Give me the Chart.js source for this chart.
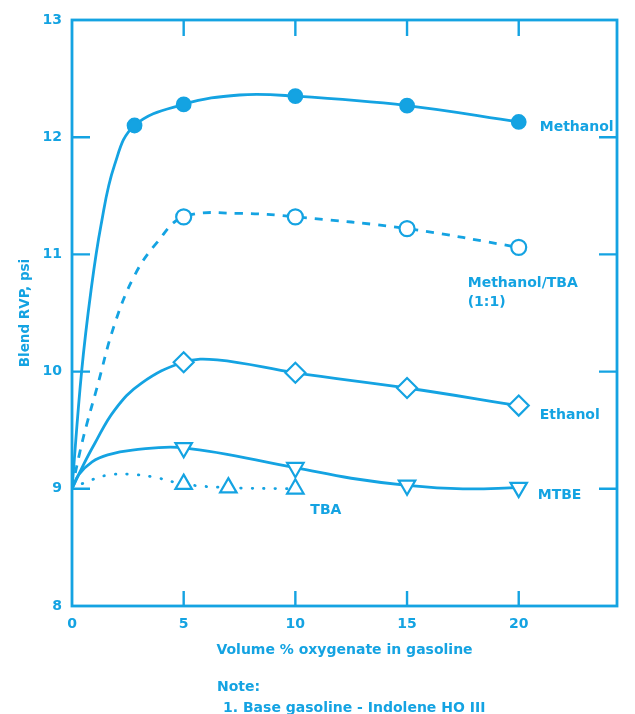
<!DOCTYPE html>
<html>
<head>
<meta charset="utf-8">
<title>Blend RVP vs. oxygenate content</title>
<script src="https://cdn.jsdelivr.net/npm/chart.js@4.4.1/dist/chart.umd.min.js"></script>
<style>
  html, body { margin: 0; padding: 0; background: #ffffff; }
  #wrap { width: 635px; height: 714px; position: relative; }
</style>
</head>
<body>
<div id="wrap"><canvas id="rvp"></canvas></div>
<script>
// Axis ticks
const xTicks = [0, 5, 10, 15, 20];
const yTicks = [8, 9, 10, 11, 12, 13];

// Measured blends (plotted symbols), vol % oxygenate vs. blend RVP (psi)
const methanolX = [2.8, 5, 10, 15, 20];
const methanolY = [12.10, 12.28, 12.35, 12.27, 12.13];
const methTbaX = [5, 10, 15, 20];
const methTbaY = [11.32, 11.32, 11.22, 11.06];
const ethanolX = [5, 10, 15, 20];
const ethanolY = [10.08, 9.99, 9.86, 9.71];
const mtbeX = [5, 10, 15, 20];
const mtbeY = [9.35, 9.18, 9.03, 9.01];
const tbaX = [5, 7, 10];
const tbaY = [9.04, 9.01, 9.00];

// Smoothed trend lines between the symbols (all start at the base gasoline, 9.0 psi)
const methanolFitX = [0, 0.43, 0.85, 1.3, 1.9, 7.5];
const methanolFitY = [9.0, 10.0, 10.69, 11.25, 11.76, 12.36];
const methTbaFitX = [0, 0.36, 0.66, 1.1, 1.9, 2.8, 3.8, 7.5];
const methTbaFitY = [9.0, 9.32, 9.55, 9.85, 10.4, 10.82, 11.1, 11.35];
const ethanolFitX = [0, 0.5, 1.0, 1.9, 3.1, 6.5];
const ethanolFitY = [9.0, 9.2, 9.38, 9.67, 9.9, 10.1];
const mtbeFitX = [0, 0.3, 0.9, 1.6, 2.7, 12.5, 17.5];
const mtbeFitY = [9.0, 9.12, 9.23, 9.29, 9.33, 9.09, 9.0];
const tbaFitX = [0, 0.66, 1.7, 2.9, 3.9];
const tbaFitY = [9.0, 9.06, 9.12, 9.12, 9.09];

const INK = '#14a3e2';
const FONT = '"DejaVu Sans", "Liberation Sans", Arial, sans-serif';

const pts = (xs, ys) => xs.map((x, i) => ({ x, y: ys[i] }));
const fit = (mx, my, fx, fy) => pts(mx, my).concat(pts(fx, fy)).sort((a, b) => a.x - b.x);

function curve(label, data, dash) {
  return {
    label, data, order: 2,
    showLine: true, pointRadius: 0, pointHoverRadius: 0,
    borderColor: INK, borderWidth: 2.8, borderDash: dash || [],
    borderCapStyle: dash && dash[0] < 4 ? 'round' : 'butt',
    tension: 0.4, fill: false
  };
}
function symbols(label, data, style, radius, filled, rotation) {
  return {
    label, data, order: 0, showLine: false,
    pointStyle: style, pointRadius: radius, pointHoverRadius: radius,
    pointRotation: rotation || 0,
    pointBackgroundColor: filled ? INK : '#ffffff',
    pointBorderColor: INK, pointBorderWidth: 2.2
  };
}

// Curve labels placed beside the last symbol of each series (pixel offsets)
const seriesLabels = [
  { lines: ['Methanol'], xs: methanolX, ys: methanolY, dx: 21, dy: 5 },
  { lines: ['Methanol/TBA', '(1:1)'], xs: methTbaX, ys: methTbaY, dx: -51, dy: 36 },
  { lines: ['Ethanol'], xs: ethanolX, ys: ethanolY, dx: 21, dy: 10 },
  { lines: ['MTBE'], xs: mtbeX, ys: mtbeY, dx: 19, dy: 8 },
  { lines: ['TBA'], xs: tbaX, ys: tbaY, dx: 15, dy: 22 }
];

const frameAndNotes = {
  id: 'frameAndNotes',
  afterDatasetsDraw(chart) {
    const { ctx, chartArea: a, scales: { x, y } } = chart;
    ctx.save();
    ctx.strokeStyle = INK;
    ctx.lineWidth = 2.8;
    ctx.strokeRect(a.left, a.top, a.right - a.left, a.bottom - a.top);
    // inward tick marks on all four sides
    ctx.lineWidth = 2.4;
    ctx.beginPath();
    xTicks.slice(1).forEach(v => {
      const px = x.getPixelForValue(v);
      ctx.moveTo(px, a.bottom); ctx.lineTo(px, a.bottom - 15);
      ctx.moveTo(px, a.top); ctx.lineTo(px, a.top + 16);
    });
    yTicks.slice(1, -1).forEach(v => {
      const py = y.getPixelForValue(v);
      ctx.moveTo(a.left, py); ctx.lineTo(a.left + 18, py);
      ctx.moveTo(a.right, py); ctx.lineTo(a.right - 18, py);
    });
    ctx.stroke();

    ctx.fillStyle = INK;
    ctx.font = 'bold 14px ' + FONT;
    ctx.textAlign = 'left';
    ctx.textBaseline = 'middle';
    seriesLabels.forEach(s => {
      const n = s.xs.length - 1;
      const px = x.getPixelForValue(s.xs[n]) + s.dx;
      const py = y.getPixelForValue(s.ys[n]) + s.dy;
      s.lines.forEach((t, i) => ctx.fillText(t, px, py + i * 19));
    });

    // note under the axis title
    ctx.fillText('Note:', a.left + 145, a.bottom + 81);
    ctx.fillText('1. Base gasoline - Indolene HO III', a.left + 151, a.bottom + 102);
    ctx.restore();
  }
};

new Chart(document.getElementById('rvp'), {
  type: 'line',
  data: {
    datasets: [
      symbols('Methanol', pts(methanolX, methanolY), 'circle', 6.8, true),
      symbols('Methanol/TBA (1:1)', pts(methTbaX, methTbaY), 'circle', 7.5, false),
      symbols('Ethanol', pts(ethanolX, ethanolY), 'rectRot', 10, false),
      symbols('MTBE', pts(mtbeX, mtbeY), 'triangle', 9.5, false, 180),
      symbols('TBA', pts(tbaX, tbaY), 'triangle', 9.5, false),
      curve('Methanol fit', fit(methanolX, methanolY, methanolFitX, methanolFitY)),
      curve('Methanol/TBA fit', fit(methTbaX, methTbaY, methTbaFitX, methTbaFitY), [8, 8]),
      curve('Ethanol fit', fit(ethanolX, ethanolY, ethanolFitX, ethanolFitY)),
      curve('MTBE fit', fit(mtbeX, mtbeY, mtbeFitX, mtbeFitY)),
      curve('TBA fit', fit(tbaX, tbaY, tbaFitX, tbaFitY), [0.5, 11])
    ]
  },
  options: {
    responsive: true,
    maintainAspectRatio: false,
    animation: false,
    events: [],
    layout: { padding: { top: 20, right: 18, left: 0, bottom: 0 } },
    plugins: { legend: { display: false }, tooltip: { enabled: false } },
    scales: {
      x: {
        type: 'linear', min: 0, max: 24.4,
        afterBuildTicks: s => { s.ticks = xTicks.map(v => ({ value: v })); },
        afterFit: s => { s.height = 108; },
        grid: { display: false, drawTicks: false },
        border: { display: false },
        ticks: { color: INK, padding: 10, font: { family: FONT, size: 14, weight: 'bold' } },
        title: {
          display: true, text: 'Volume % oxygenate in gasoline', color: INK,
          font: { family: FONT, size: 14, weight: 'bold' }, padding: { top: 0, bottom: 55.6 }
        }
      },
      y: {
        type: 'linear', min: 8, max: 13,
        afterBuildTicks: s => { s.ticks = yTicks.map(v => ({ value: v })); },
        afterFit: s => { s.width = 72; },
        grid: { display: false, drawTicks: false },
        border: { display: false },
        ticks: { color: INK, padding: 10, font: { family: FONT, size: 14, weight: 'bold' } },
        title: {
          display: true, text: 'Blend RVP, psi', color: INK,
          font: { family: FONT, size: 13.5, weight: 'bold' }, padding: { top: 17, bottom: 0 }
        }
      }
    }
  },
  plugins: [frameAndNotes]
});
</script>
</body>
</html>
